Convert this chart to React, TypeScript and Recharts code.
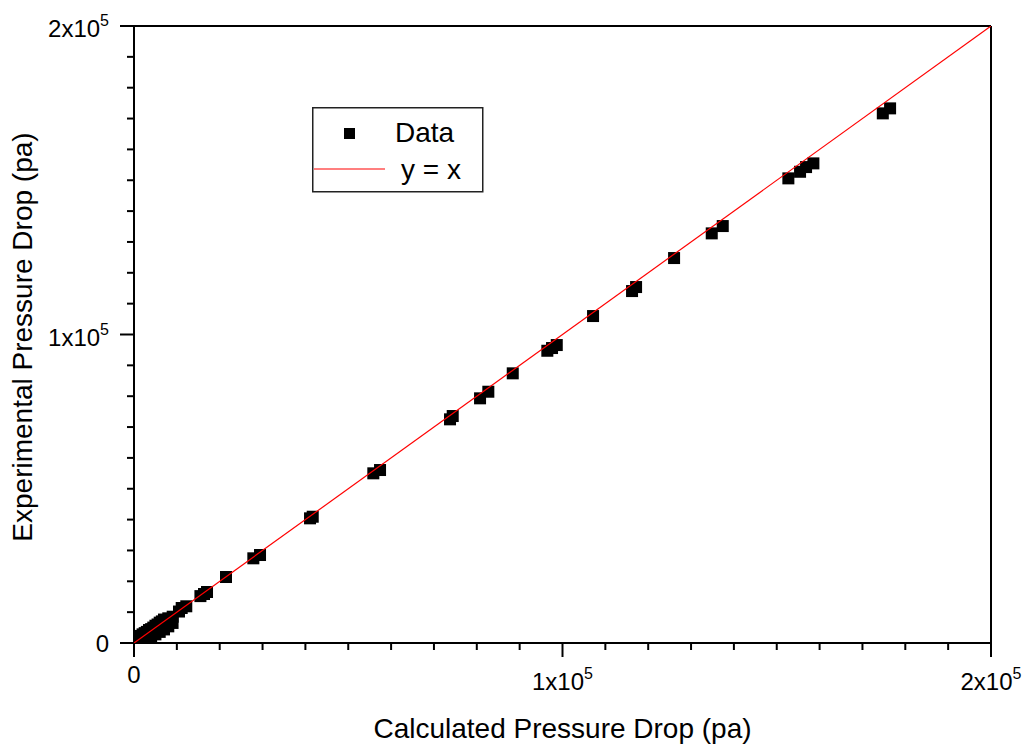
import { ScatterChart, Scatter, XAxis, YAxis, ReferenceLine } from "recharts";

// calculated (x) vs experimental (y) pressure drop, Pa
const calcDrop = [
  300, 700, 1100, 1500, 1900, 2300, 2700, 3100, 3500, 3900, 4300, 4700, 5100, 5500, 5900, 6300, 6700, 7100, 7500, 8000,
  1500, 2500, 3500, 4500, 5500, 6500,
  1000, 2000, 3000, 4000, 5000, 6000, 7000, 8000,
  2000, 3000, 4000, 5000, 6000, 7000, 8000, 9000,
  9030, 10500, 11130, 12200, 15500, 16340, 17040, 21470, 27850, 29410, 41080, 41710, 55850, 57420,
  73750, 74380, 80760, 82690, 88390, 96460, 97560, 98660, 107130, 116230, 117170, 126040,
  134830, 137400, 152710, 155440, 156840, 158550, 174750, 176450,
];
const expDrop = [
  200, 500, 800, 1100, 1400, 1700, 2000, 2400, 2700, 3000, 3400, 3700, 4100, 4400, 4800, 5200, 5500, 5900, 6300, 6800,
  2300, 3200, 4200, 5000, 6000, 7000,
  1800, 2800, 3600, 4500, 5600, 6600, 7600, 8000,
  600, 1200, 2000, 2800, 3600, 4400, 5400, 6500,
  8520, 10200, 11340, 11900, 15200, 15880, 16530, 21390, 27450, 28520, 40410, 40930, 55000, 56070,
  72500, 73570, 79310, 81450, 87410, 94730, 95610, 96580, 105980, 114080, 115380, 124780,
  132780, 135150, 150610, 152750, 154270, 155470, 171680, 173300,
];
const identityEnds = [0, 200000];

const axisTicks = [
  0, 10000, 20000, 30000, 40000, 50000, 60000, 70000, 80000, 90000, 100000,
  110000, 120000, 130000, 140000, 150000, 160000, 170000, 180000, 190000, 200000,
];
const majorTicks = [0, 100000, 200000];
const tickBase = ["0", "1x10", "2x10"];
const tickExp = ["", "5", "5"];

const points = calcDrop.map((x, i) => ({ x, y: expDrop[i] }));
const identity = identityEnds.map((v) => ({ x: v, y: v }));

const FONT = "'Liberation Sans', Arial, sans-serif";

function TickLabel({ x, y, idx, anchor }: { x: number; y: number; idx: number; anchor: "middle" | "end" }) {
  return (
    <text x={x} y={y} textAnchor={anchor} fontFamily={FONT} fontSize={24} fill="#000">
      <tspan>{tickBase[idx]}</tspan>
      {tickExp[idx] && (
        <tspan dy={-11} fontSize={16}>
          {tickExp[idx]}
        </tspan>
      )}
    </text>
  );
}

const XTick = (props: any) => {
  const { x, y, payload } = props;
  const idx = majorTicks.indexOf(payload.value);
  const major = idx >= 0;
  return (
    <g>
      <line x1={x} x2={x} y1={y} y2={y + (major ? 14 : 7)} stroke="#000" strokeWidth={2} />
      {major && <TickLabel x={x} y={y + (tickExp[idx] ? 47 : 40)} idx={idx} anchor="middle" />}
    </g>
  );
};

const YTick = (props: any) => {
  const { x, y, payload } = props;
  const idx = majorTicks.indexOf(payload.value);
  const major = idx >= 0;
  return (
    <g>
      <line x1={x} x2={x - (major ? 14 : 7)} y1={y} y2={y} stroke="#000" strokeWidth={2} />
      {major && <TickLabel x={x - 25} y={y + (tickExp[idx] ? 11 : 9)} idx={idx} anchor="end" />}
    </g>
  );
};

const SquareDot = (props: any) => {
  const { cx, cy } = props;
  return <rect x={cx - 6} y={cy - 6} width={12} height={12} fill="#000" />;
};

export default function App() {
  return (
    <div style={{ position: "absolute", left: 0, top: 0, width: 1030, height: 751, background: "#fff" }}>
      <ScatterChart width={1030} height={751} margin={{ top: 26, right: 39, bottom: 48, left: 34 }}>
        <XAxis
          type="number"
          dataKey="x"
          domain={[0, 200000]}
          ticks={axisTicks}
          interval={0}
          allowDataOverflow
          height={60}
          tickSize={0}
          tickMargin={0}
          tickLine={false}
          tick={<XTick />}
          axisLine={{ stroke: "#000", strokeWidth: 2 }}
          label={(p: any) => (
            <text
              x={p.viewBox.x + p.viewBox.width / 2}
              y={p.viewBox.y + 95}
              textAnchor="middle"
              fontFamily={FONT}
              fontSize={28}
              fill="#000"
            >
              Calculated Pressure Drop (pa)
            </text>
          )}
        />
        <YAxis
          type="number"
          dataKey="y"
          domain={[0, 200000]}
          ticks={axisTicks}
          interval={0}
          allowDataOverflow
          width={100}
          tickSize={0}
          tickMargin={0}
          tickLine={false}
          tick={<YTick />}
          axisLine={{ stroke: "#000", strokeWidth: 2 }}
          label={() => (
            <text
              x={32}
              y={337}
              transform="rotate(-90 32 337)"
              textAnchor="middle"
              fontFamily={FONT}
              fontSize={28}
              fill="#000"
            >
              Experimental Pressure Drop (pa)
            </text>
          )}
        />
        <ReferenceLine y={200000} stroke="#000" strokeWidth={2} />
        <ReferenceLine x={200000} stroke="#000" strokeWidth={2} />
        <Scatter data={points} fill="#000" shape={<SquareDot />} isAnimationActive={false} />
        <Scatter
          data={identity}
          line={{ stroke: "#ff0000", strokeWidth: 1.2 }}
          shape={() => <g />}
          isAnimationActive={false}
        />
      </ScatterChart>
      <svg
        width={172}
        height={86}
        style={{ position: "absolute", left: 312, top: 107 }}
      >
        <rect x={0.75} y={0.75} width={170} height={84} fill="#fff" stroke="#222" strokeWidth={1.5} />
        <rect x={32} y={21} width={11} height={11} fill="#000" />
        <text x={83} y={35} fontFamily={FONT} fontSize={28} fill="#000">
          Data
        </text>
        <line x1={2} x2={73} y1={62} y2={62} stroke="#ff0000" strokeWidth={1.2} />
        <text x={89} y={72} fontFamily={FONT} fontSize={28} fill="#000">
          y = x
        </text>
      </svg>
    </div>
  );
}
